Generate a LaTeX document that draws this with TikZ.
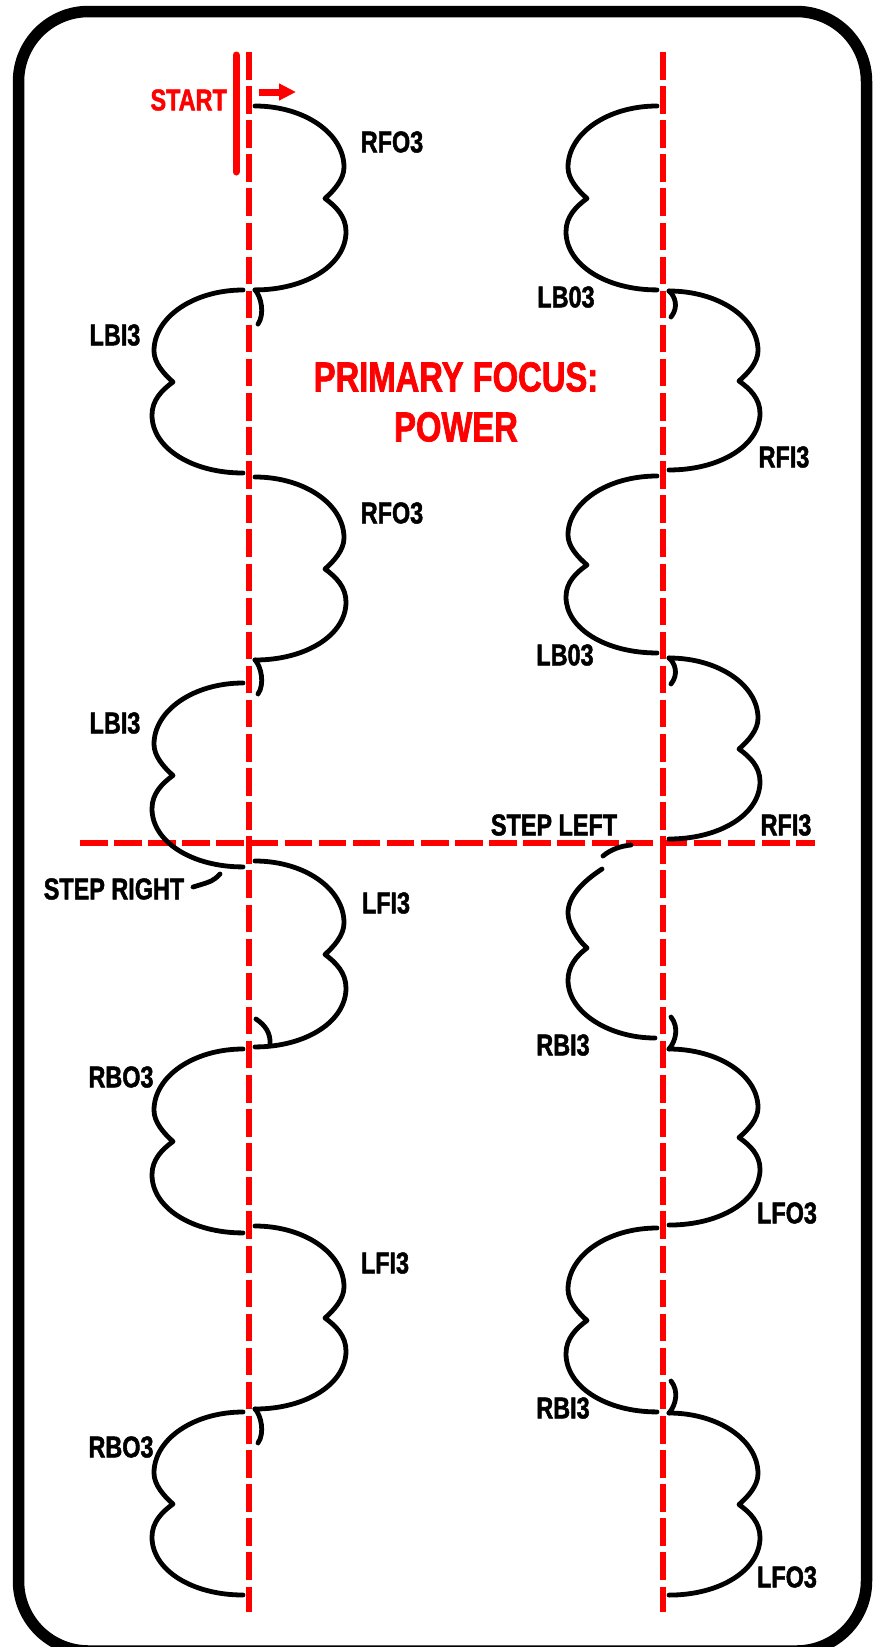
\documentclass[tikz,border=0pt]{standalone}
\usepackage{fontspec}
\newfontfamily\condfont[FakeStretch=0.78,FakeBold=1.6]{Liberation Sans}
\usetikzlibrary{arrows.meta}
\definecolor{vred}{RGB}{255,0,0}
\begin{document}
\begin{tikzpicture}[x=1pt,y=-1pt,
  skate/.style={draw=black,line width=4.8pt,line cap=round,line join=round},
  axisline/.style={draw=vred,line width=5.5pt,dash pattern=on 27.5pt off 6.6pt},
  lbl/.style={inner sep=0pt,font=\condfont\bfseries\fontsize{30}{30}\selectfont,text=black},
  redlbl/.style={inner sep=0pt,font=\condfont\bfseries\fontsize{30}{30}\selectfont,text=vred},
  rlobe/.pic={\draw[skate] (6,0) .. controls (55,0) and (95,27) .. (95,61)
      .. controls (95,73) and (85,84) .. (76,92)
      .. controls (87,100) and (97,110) .. (97,125)
      .. controls (97,158) and (57,183) .. (6,183);},
  endtick/.pic={\draw[skate] (6,183) .. controls (12,189) and (16,207) .. (9,217);},
  stdown/.pic={\draw[skate] (6,0) .. controls (12,5) and (16,16) .. (8,26);},
  stup/.pic={\draw[skate] (6,0) .. controls (13,-8) and (16,-22) .. (8,-32);}
]
\useasboundingbox (0,0) rectangle (878,1647);
% frame
\draw[line width=11.5pt,rounded corners=70pt] (18.5,11.5) rectangle (866.5,1651);

% red axes
\draw[axisline] (249,52) -- (249,1612);
\draw[axisline] (663,52) -- (663,1612);
\draw[axisline] (80,843) -- (815,843);

% start marker
\draw[draw=vred,line width=7pt,line cap=round] (236,55) -- (236,172);
\node[redlbl,anchor=east] (start) at (227,100) {START};
\coordinate (arrA) at (259,92);
\coordinate (arrB) at (296,92);
\draw[draw=vred,line width=7pt,-{Triangle[length=17pt,width=16pt]}] (arrA) -- (arrB);

% left column
\pic[yscale=1.005] at (249,106) {rlobe};
\pic[yscale=1.005] at (249,106) {endtick};
\pic[xscale=-1] at (249,290) {rlobe};
\pic at (249,477) {rlobe};
\pic at (249,477) {endtick};
\pic[xscale=-1,yscale=1.005] at (249,683) {rlobe};
\pic[yscale=1.016] at (249,861) {rlobe};
\draw[skate] (270,1045) .. controls (271,1033) and (265,1025) .. (256,1019);
\pic[xscale=-1,yscale=1.005] at (249,1049) {rlobe};
\pic at (249,1226) {rlobe};
\pic at (249,1226) {endtick};
\pic[xscale=-1] at (249,1412) {rlobe};
% step right mark
\draw[skate] (220,874) .. controls (213,881) .. (193,887);

% right column
\pic[xscale=-1,yscale=1.005] at (663,106) {rlobe};
\pic[yscale=0.978] at (663,291) {rlobe};
\pic at (663,291) {stdown};
\pic[xscale=-1,yscale=0.967] at (663,476) {rlobe};
\pic[yscale=0.989] at (663,658) {rlobe};
\pic at (663,658) {stdown};
% step left mark and partial loop
\draw[skate] (631,845) .. controls (620,846) and (610,850) .. (603,856);
\draw[skate] (602,869) .. controls (582,882) and (568,897) .. (568,913)
   .. controls (568,925) and (578,940) .. (587,948)
   .. controls (576,956) and (568,967) .. (568,980)
   .. controls (568,1013) and (610,1038) .. (655,1038);
\pic[yscale=0.962] at (663,1049) {rlobe};
\pic at (663,1049) {stup};
\pic[xscale=-1,yscale=1.005] at (663,1228) {rlobe};
\pic[yscale=0.995] at (663,1413) {rlobe};
\pic at (663,1413) {stup};

% labels
\node[lbl] (l1) at (392,142) {RFO3};
\node[lbl] (l2) at (115,335) {LBI3};
\node[lbl] (l3) at (392,513) {RFO3};
\node[lbl] (l4) at (115,723) {LBI3};
\node[lbl] (sr) at (114,889) {STEP RIGHT};
\node[lbl] (l5) at (386,903) {LFI3};
\node[lbl] (l6) at (121,1077) {RBO3};
\node[lbl] (l7) at (385,1263) {LFI3};
\node[lbl] (l8) at (121,1447) {RBO3};

\node[lbl] (r1) at (566,297) {LB03};
\node[lbl] (r2) at (784,457) {RFI3};
\node[lbl] (r3) at (565,655) {LB03};
\node[lbl] (r4) at (786,825) {RFI3};
\node[lbl] (sl) at (554,825) {STEP LEFT};
\node[lbl] (r5) at (563,1045) {RBI3};
\node[lbl] (r6) at (787,1213) {LFO3};
\node[lbl] (r7) at (563,1408) {RBI3};
\node[lbl] (r8) at (787,1577) {LFO3};

\node[inner sep=0pt,align=center,text=vred,font=\condfont\bfseries\fontsize{42}{50}\selectfont] (focus) at (456,402) {PRIMARY FOCUS:\\POWER};
\end{tikzpicture}
\end{document}
